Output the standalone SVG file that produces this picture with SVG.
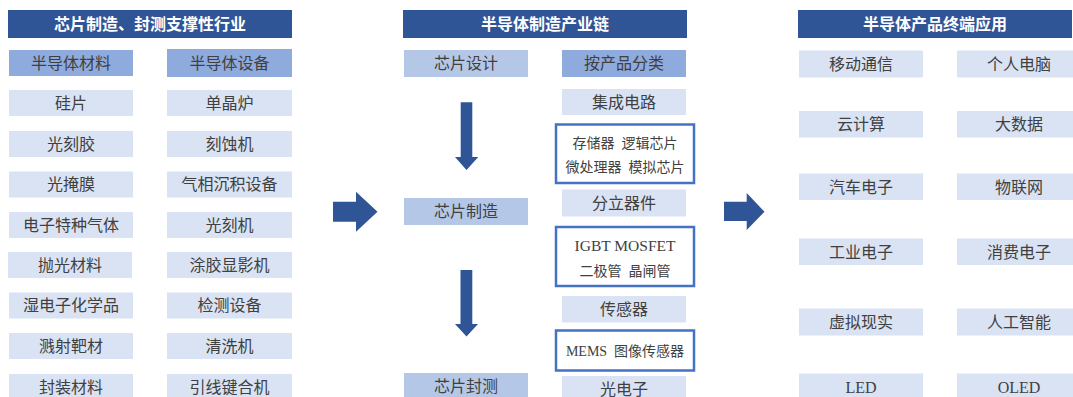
<svg xmlns="http://www.w3.org/2000/svg" width="1073" height="397" viewBox="0 0 1073 397">
<defs>
<style>
.hdr{fill:#2F5597}
.hdrt{fill:#FFFFFF;font-family:"Liberation Serif","Noto Sans CJK SC",serif;font-size:16px;font-weight:bold;text-anchor:middle;dominant-baseline:central}
.lt{fill:#DAE3F3}
.md{fill:#8FAADC}
.mb{fill:#B4C7E7}
.ol{fill:#FFFFFF;stroke:#4472C4;stroke-width:2.5}
.t{fill:#404040;font-family:"Liberation Serif","Noto Sans CJK SC",serif;font-size:16px;text-anchor:middle;dominant-baseline:central}
.ts{fill:#404040;font-family:"Liberation Serif","Noto Sans CJK SC",serif;font-size:14px;text-anchor:middle;dominant-baseline:central;white-space:pre}
.arr{fill:#2F5597}
</style>
</defs>
<rect width="1073" height="397" fill="#FFFFFF"/>

<!-- Left section -->
<g id="hdr-left"><rect class="hdr" x="8" y="10" width="284" height="28"/><text class="hdrt" x="150" y="24">芯片制造、封测支撑性行业</text></g>
<g id="l-mat"><rect class="md" x="9" y="50" width="124" height="26"/><text class="t" x="71" y="63">半导体材料</text></g>
<g id="l-equ"><rect class="md" x="167" y="49" width="125" height="28"/><text class="t" x="229.5" y="63">半导体设备</text></g>
<g id="l1a"><rect class="lt" x="9" y="90" width="124" height="26"/><text class="t" x="71" y="103">硅片</text></g>
<g id="l1b"><rect class="lt" x="167" y="90" width="125" height="26"/><text class="t" x="229.5" y="103">单晶炉</text></g>
<g id="l2a"><rect class="lt" x="9" y="131" width="124" height="26"/><text class="t" x="71" y="144">光刻胶</text></g>
<g id="l2b"><rect class="lt" x="167" y="131" width="125" height="26"/><text class="t" x="229.5" y="144">刻蚀机</text></g>
<g id="l3a"><rect class="lt" x="9" y="171.5" width="124" height="26"/><text class="t" x="71" y="184.5">光掩膜</text></g>
<g id="l3b"><rect class="lt" x="167" y="171.5" width="125" height="26"/><text class="t" x="229.5" y="184.5">气相沉积设备</text></g>
<g id="l4a"><rect class="lt" x="9" y="212" width="124" height="26"/><text class="t" x="71" y="225">电子特种气体</text></g>
<g id="l4b"><rect class="lt" x="167" y="212" width="125" height="26"/><text class="t" x="229.5" y="225">光刻机</text></g>
<g id="l5a"><rect class="lt" x="8" y="252" width="124" height="26"/><text class="t" x="70" y="265">抛光材料</text></g>
<g id="l5b"><rect class="lt" x="167" y="252" width="125" height="26"/><text class="t" x="229.5" y="265">涂胶显影机</text></g>
<g id="l6a"><rect class="lt" x="9" y="292.5" width="124" height="26"/><text class="t" x="71" y="305.5">湿电子化学品</text></g>
<g id="l6b"><rect class="lt" x="167" y="292.5" width="125" height="26"/><text class="t" x="229.5" y="305.5">检测设备</text></g>
<g id="l7a"><rect class="lt" x="9" y="333" width="124" height="26"/><text class="t" x="71" y="346">溅射靶材</text></g>
<g id="l7b"><rect class="lt" x="167" y="333" width="125" height="26"/><text class="t" x="229.5" y="346">清洗机</text></g>
<g id="l8a"><rect class="lt" x="9" y="374" width="124" height="26"/><text class="t" x="71" y="387">封装材料</text></g>
<g id="l8b"><rect class="lt" x="167" y="374" width="125" height="26"/><text class="t" x="229.5" y="387">引线键合机</text></g>

<!-- Middle section -->
<g id="hdr-mid"><rect class="hdr" x="403" y="10" width="284" height="28"/><text class="hdrt" x="545" y="24">半导体制造产业链</text></g>
<g id="m-design"><rect class="mb" x="404" y="50" width="124" height="27"/><text class="t" x="466" y="63.5">芯片设计</text></g>
<g id="m-fab"><rect class="mb" x="404" y="198" width="124" height="27"/><text class="t" x="466" y="211.5">芯片制造</text></g>
<g id="m-pack"><rect class="mb" x="404" y="373" width="124" height="27"/><text class="t" x="466" y="386.5">芯片封测</text></g>
<g id="m-cls"><rect class="md" x="562" y="50" width="124" height="27"/><text class="t" x="624" y="63.5">按产品分类</text></g>
<g id="m-ic"><rect class="lt" x="562" y="89" width="124" height="26"/><text class="t" x="624" y="102">集成电路</text></g>
<g id="m-icbox"><rect class="ol" x="556" y="124.5" width="138" height="58.5"/><text class="ts" x="625" y="143" xml:space="preserve">存储器  逻辑芯片</text><text class="ts" x="625" y="167" xml:space="preserve">微处理器  模拟芯片</text></g>
<g id="m-disc"><rect class="lt" x="562" y="189.5" width="124" height="27"/><text class="t" x="624" y="203">分立器件</text></g>
<g id="m-discbox"><rect class="ol" x="556" y="227" width="138" height="59"/><text class="ts" x="625" y="245" style="font-size:15.5px">IGBT MOSFET</text><text class="ts" x="625" y="271" xml:space="preserve">二极管  晶闸管</text></g>
<g id="m-sens"><rect class="lt" x="562" y="296" width="124" height="26.5"/><text class="t" x="624" y="309">传感器</text></g>
<g id="m-sensbox"><rect class="ol" x="556" y="330.5" width="138" height="40"/><text class="ts" x="625" y="351" xml:space="preserve">MEMS  图像传感器</text></g>
<g id="m-opto"><rect class="lt" x="562" y="376" width="124" height="26"/><text class="t" x="624" y="389">光电子</text></g>

<!-- Right section -->
<g id="hdr-right"><rect class="hdr" x="798" y="10" width="274" height="28"/><text class="hdrt" x="935" y="24">半导体产品终端应用</text></g>
<g id="r1a"><rect class="lt" x="799" y="50.5" width="124" height="27"/><text class="t" x="861" y="64">移动通信</text></g>
<g id="r1b"><rect class="lt" x="957" y="50.5" width="116" height="27"/><text class="t" x="1019" y="64">个人电脑</text></g>
<g id="r2a"><rect class="lt" x="799" y="111" width="124" height="26.5"/><text class="t" x="861" y="124.5">云计算</text></g>
<g id="r2b"><rect class="lt" x="957" y="111" width="116" height="26.5"/><text class="t" x="1019" y="124.5">大数据</text></g>
<g id="r3a"><rect class="lt" x="799" y="173.5" width="124" height="26.5"/><text class="t" x="861" y="187">汽车电子</text></g>
<g id="r3b"><rect class="lt" x="957" y="173.5" width="116" height="26.5"/><text class="t" x="1019" y="187">物联网</text></g>
<g id="r4a"><rect class="lt" x="799" y="238.5" width="124" height="26.5"/><text class="t" x="861" y="252">工业电子</text></g>
<g id="r4b"><rect class="lt" x="957" y="238.5" width="116" height="26.5"/><text class="t" x="1019" y="252">消费电子</text></g>
<g id="r5a"><rect class="lt" x="799" y="308.5" width="124" height="27"/><text class="t" x="861" y="322">虚拟现实</text></g>
<g id="r5b"><rect class="lt" x="957" y="308.5" width="116" height="27"/><text class="t" x="1019" y="322">人工智能</text></g>
<g id="r6a"><rect class="lt" x="799" y="373.5" width="124" height="26"/><text class="t" x="861" y="387">LED</text></g>
<g id="r6b"><rect class="lt" x="957" y="373.5" width="116" height="26"/><text class="t" x="1019" y="387">OLED</text></g>

<!-- Connectors -->
<g id="connectors">
<polygon class="arr" points="333,201.7 356,201.7 356,191.7 377.5,211.7 356,231.7 356,221.7 333,221.7"/>
<polygon class="arr" points="724,201.7 746.7,201.7 746.7,193 764.5,211.7 746.7,230 746.7,221 724,221"/>
<polygon class="arr" points="460.7,102.3 472.3,102.3 472.3,157 478.3,157 466.5,170 455,157 460.7,157"/>
<polygon class="arr" points="460.5,270 472.3,270 472.3,324 478,324 466.5,336.5 455,324 460.5,324"/>
</g>
</svg>
